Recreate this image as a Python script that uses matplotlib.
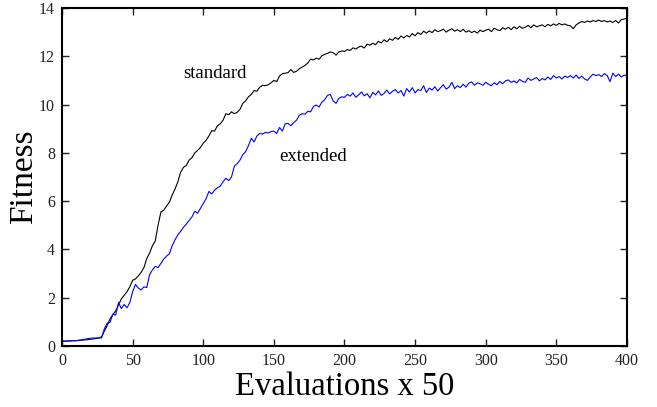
import matplotlib
matplotlib.use("Agg")
import matplotlib.pyplot as plt
import numpy as np

# evaluations (x50), sampled every 2
evals = np.arange(0, 401, 2)

standard = [
    0.20, 0.20, 0.21, 0.21, 0.22, 0.22, 0.23, 0.24, 0.25, 0.26,
    0.28, 0.29, 0.31, 0.33, 0.38, 0.62, 0.85, 1.12, 1.30, 1.45,
    1.70, 1.95, 2.10, 2.25, 2.45, 2.72, 2.78, 2.90, 3.05, 3.25,
    3.62, 3.85, 4.15, 4.35, 5.00, 5.55, 5.62, 5.80, 5.95, 6.25,
    6.50, 6.80, 7.20, 7.40, 7.48, 7.70, 7.80, 8.00, 8.10, 8.22,
    8.40, 8.52, 8.70, 8.92, 8.90, 9.12, 9.20, 9.35, 9.62, 9.58,
    9.70, 9.62, 9.68, 9.80, 10.05, 10.15, 10.32, 10.42, 10.58, 10.55,
    10.72, 10.80, 10.78, 10.82, 10.90, 11.00, 10.95, 11.18, 11.28, 11.30,
    11.32, 11.45, 11.33, 11.38, 11.48, 11.55, 11.62, 11.72, 11.88, 11.85,
    11.92, 11.88, 12.02, 12.08, 12.12, 12.18, 12.15, 12.05, 12.18, 12.22,
    12.20, 12.28, 12.24, 12.35, 12.30, 12.38, 12.42, 12.34, 12.50, 12.46,
    12.54, 12.48, 12.62, 12.55, 12.68, 12.60, 12.72, 12.66, 12.78, 12.70,
    12.84, 12.76, 12.86, 12.80, 12.94, 12.85, 12.98, 12.90, 13.04, 12.96,
    13.05, 12.98, 13.10, 13.02, 13.06, 13.12, 13.00, 13.08, 13.14, 13.04,
    13.10, 13.02, 13.12, 13.00, 13.06, 12.98, 13.04, 12.96, 13.08, 13.02,
    13.08, 13.12, 13.02, 13.16, 13.10, 13.06, 13.18, 13.12, 13.20, 13.10,
    13.22, 13.14, 13.24, 13.16, 13.20, 13.28, 13.18, 13.30, 13.22, 13.26,
    13.30, 13.22, 13.32, 13.26, 13.34, 13.28, 13.36, 13.30, 13.34, 13.28,
    13.26, 13.14, 13.30, 13.38, 13.44, 13.40, 13.46, 13.42, 13.48, 13.44,
    13.50, 13.44, 13.48, 13.42, 13.46, 13.40, 13.48, 13.38, 13.52, 13.54,
    13.58,
]

extended = [
    0.20, 0.20, 0.20, 0.21, 0.22, 0.22, 0.24, 0.26, 0.28, 0.30,
    0.32, 0.33, 0.33, 0.34, 0.33, 0.72, 0.95, 0.98, 1.32, 1.28,
    1.80, 1.55, 1.72, 1.58, 1.80, 2.25, 2.55, 2.40, 2.32, 2.45,
    2.42, 2.95, 3.15, 3.30, 3.25, 3.42, 3.60, 3.72, 3.82, 4.15,
    4.40, 4.60, 4.75, 4.92, 5.05, 5.20, 5.35, 5.58, 5.50, 5.70,
    5.90, 6.10, 6.40, 6.30, 6.45, 6.55, 6.62, 6.80, 6.95, 6.85,
    7.00, 7.45, 7.55, 7.70, 7.92, 8.05, 8.30, 8.60, 8.45, 8.70,
    8.80, 8.78, 8.85, 8.82, 8.88, 8.90, 8.80, 9.05, 8.90, 9.20,
    9.22, 9.12, 9.25, 9.35, 9.55, 9.62, 9.60, 9.72, 9.70, 9.92,
    9.98, 9.90, 10.10, 10.20, 10.38, 10.42, 10.15, 10.05, 10.25, 10.32,
    10.30, 10.42, 10.35, 10.48, 10.30, 10.40, 10.52, 10.36, 10.45, 10.28,
    10.50, 10.40, 10.56, 10.38, 10.46, 10.60, 10.44, 10.55, 10.62, 10.48,
    10.58, 10.35, 10.66, 10.52, 10.70, 10.48, 10.62, 10.58, 10.78, 10.50,
    10.68, 10.60, 10.74, 10.56, 10.70, 10.82, 10.64, 10.72, 10.92, 10.66,
    10.78, 10.70, 10.84, 10.72, 10.88, 10.94, 10.80, 10.90, 10.86, 10.80,
    10.92, 10.84, 10.78, 10.90, 10.82, 10.96, 10.86, 10.98, 11.02, 10.92,
    10.98, 10.90, 11.04, 10.96, 10.92, 11.10, 11.00, 11.06, 11.12, 10.98,
    11.08, 11.02, 11.14, 11.04, 11.20, 11.10, 11.16, 11.06, 11.18, 11.12,
    11.20, 11.10, 11.22, 11.08, 11.18, 11.06, 11.00, 11.14, 11.26, 11.20,
    11.24, 11.16, 11.28, 11.20, 10.95, 11.30, 11.16, 11.26, 11.14, 11.22,
    11.20,
]

plt.rcParams['font.family'] = ['Liberation Serif', 'DejaVu Serif']

fig = plt.figure(figsize=(6.57, 4.07), dpi=100)
ax = fig.add_axes([0.0944, 0.1499, 0.8599, 0.8305])

ax.plot(evals, standard, color='black', lw=0.8)
ax.plot(evals, extended, color='#0000ff', lw=0.8)

ax.text(108, 11.3, 'standard', fontsize=13.5, ha='center', va='center')
ax.text(178, 7.83, 'extended', fontsize=13.5, ha='center', va='center')

ax.set_xlim(0, 400)
ax.set_ylim(0, 14)
ax.set_xticks(range(0, 401, 50))
ax.set_yticks(range(0, 15, 2))
ax.tick_params(direction='in', top=True, right=True, length=5, width=1,
               labelsize=11.5, pad=5, colors='#222222', labelcolor='#222222')
for s in ax.spines.values():
    s.set_linewidth(1.5)

ax.set_xlabel('Evaluations x 50', fontsize=23.5, labelpad=2)
ax.set_ylabel('Fitness', fontsize=24, va='center')
ax.yaxis.set_label_coords(-0.068, 0.5)

fig.savefig('out.png', dpi=100)
